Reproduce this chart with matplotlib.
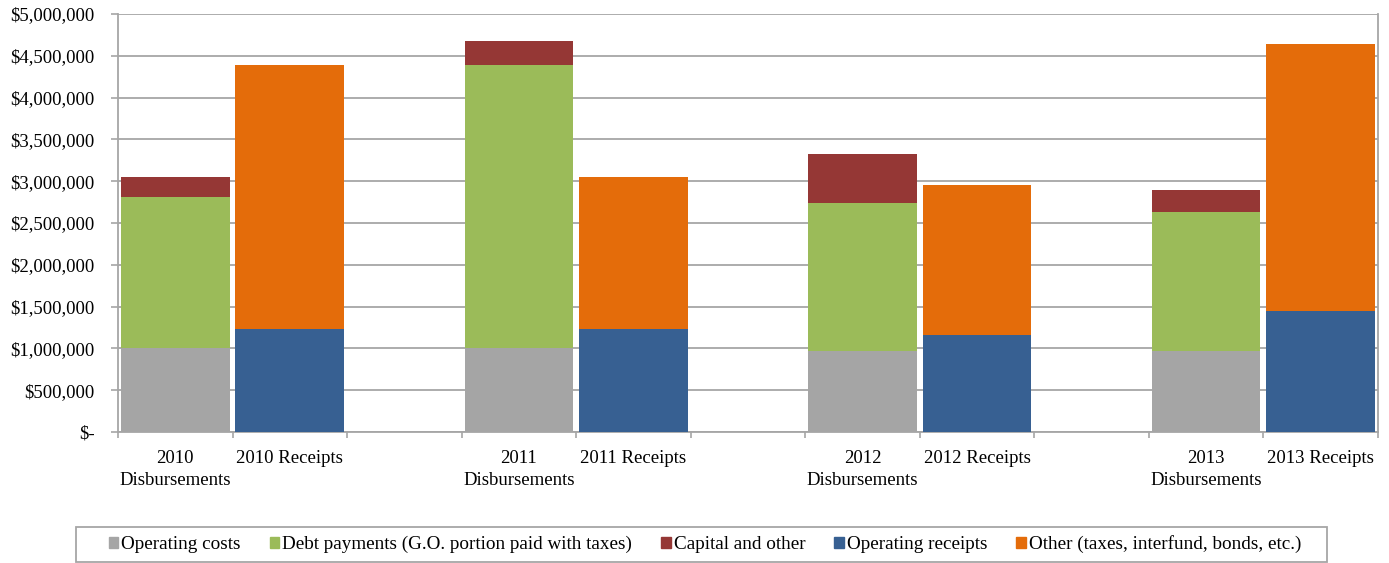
import numpy as np
import matplotlib.pyplot as plt
from matplotlib.ticker import FuncFormatter, MultipleLocator
from matplotlib.patches import Patch, Rectangle

plt.rcParams['font.family'] = ['Liberation Serif', 'DejaVu Serif']

# categories (empty slots separate the years)
categories = ["2010\nDisbursements", "2010 Receipts", "",
              "2011\nDisbursements", "2011 Receipts", "",
              "2012\nDisbursements", "2012 Receipts", "",
              "2013\nDisbursements", "2013 Receipts"]

# disbursement components per year
operating_costs = [1010000, 1000000, 965000, 965000]
debt_payments = [1805000, 3385000, 1775000, 1665000]
capital_other = [235000, 295000, 580000, 270000]

# receipt components per year
operating_receipts = [1231000, 1230000, 1163000, 1451000]
other_receipts = [3154000, 1820000, 1795000, 3194000]

labels = ["Operating costs", "Debt payments (G.O. portion paid with taxes)",
          "Capital and other", "Operating receipts",
          "Other (taxes, interfund, bonds, etc.)"]
colors = ["#A5A5A5", "#9BBB59", "#953735", "#376092", "#E46C0A"]

fig = plt.figure(figsize=(13.89, 5.63), dpi=100)
ax = fig.add_axes([0.085, 0.2327, 0.907, 0.7424])

d_pos = np.arange(4) * 3
r_pos = d_pos + 1
w = 0.95

oc = np.array(operating_costs)
dp = np.array(debt_payments)
ca = np.array(capital_other)
ax.bar(d_pos, oc, w, color=colors[0], zorder=3)
ax.bar(d_pos, dp, w, bottom=oc, color=colors[1], zorder=3)
ax.bar(d_pos, ca, w, bottom=oc + dp, color=colors[2], zorder=3)

orc = np.array(operating_receipts)
oth = np.array(other_receipts)
ax.bar(r_pos, orc, w, color=colors[3], zorder=3)
ax.bar(r_pos, oth, w, bottom=orc, color=colors[4], zorder=3)

ax.set_xlim(-0.5, len(categories) - 0.5)
ax.set_ylim(0, 5000000)

def money(v, pos):
    if v == 0:
        return "$-"
    return "${:,.0f}".format(v)

ax.yaxis.set_major_locator(MultipleLocator(500000))
ax.yaxis.set_major_formatter(FuncFormatter(money))
ax.grid(axis='y', color='#a6a6a6', linewidth=1.3, zorder=0)

ax.set_xticks(np.arange(len(categories)))
ax.set_xticklabels(categories, linespacing=1.4)
ax.set_xticks(np.arange(len(categories) + 1) - 0.5, minor=True)
ax.tick_params(axis='x', which='major', length=0, pad=13, labelsize=13.5)
ax.tick_params(axis='x', which='minor', length=4.5, width=1.2, color='#a6a6a6')
ax.tick_params(axis='y', length=5, width=1.2, color='#a6a6a6', labelsize=13.5, pad=12)

for side in ['left', 'right', 'bottom']:
    ax.spines[side].set_color('#a6a6a6')
    ax.spines[side].set_linewidth(1.3)
ax.spines['top'].set_visible(False)

# legend box drawn separately (wider padding than legend allows)
fig.patches.append(Rectangle((76 / 1389, 1 - 561.5 / 563), 1251 / 1389, 34.5 / 563,
                             transform=fig.transFigure, fill=False,
                             edgecolor='#a6a6a6', linewidth=1.3))

handles = [Patch(color=c, label=l) for c, l in zip(colors, labels)]
fig.legend(handles=handles, loc='center', bbox_to_anchor=(0.5076, 0.0337),
           ncol=5, fontsize=13.8, frameon=False,
           handlelength=0.5, handleheight=0.5,
           handletextpad=0.17, columnspacing=1.5)

plt.savefig("out.png", dpi=100)
